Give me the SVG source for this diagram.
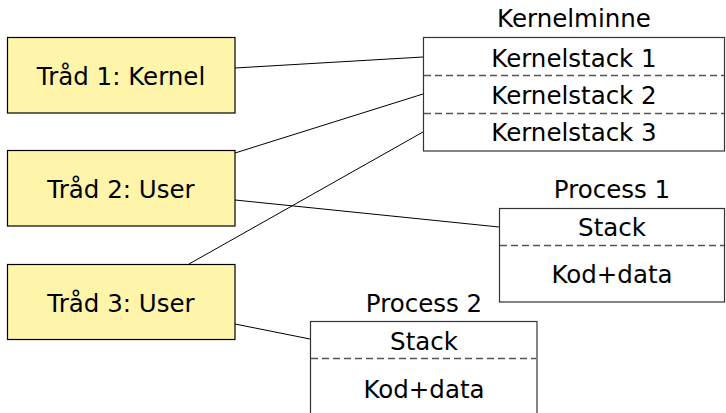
<svg xmlns="http://www.w3.org/2000/svg" width="726" height="413" viewBox="0 0 726 413">
  <style>
    text { font-family: "DejaVu Sans", "Noto Sans", sans-serif; font-size: 24.5px; fill: #000; text-anchor: middle; }
    .thread { fill: #fff5aa; stroke: #000; stroke-width: 1.2; }
    .mem { fill: #fff; stroke: #333; stroke-width: 1.2; }
    .sep { stroke: #555; stroke-width: 1.3; stroke-dasharray: 7 4; fill: none; }
    .link { stroke: #000; stroke-width: 1; fill: none; }
  </style>
  <rect width="726" height="413" fill="#fff"/>

  <!-- connectors -->
  <g id="connectors">
    <line class="link" x1="235" y1="68" x2="423" y2="57"/>
    <line class="link" x1="235" y1="153" x2="423" y2="94"/>
    <line class="link" x1="235" y1="200" x2="499" y2="227"/>
    <line class="link" x1="189" y1="264" x2="423" y2="132"/>
    <line class="link" x1="235" y1="324" x2="310" y2="339"/>
  </g>

  <!-- threads -->
  <g id="thread1">
    <rect class="thread" x="7.5" y="37.5" width="227.5" height="75.5"/>
    <text x="121" y="85">Tråd 1: Kernel</text>
  </g>
  <g id="thread2">
    <rect class="thread" x="7.5" y="150.5" width="227.5" height="75.5"/>
    <text x="121" y="198">Tråd 2: User</text>
  </g>
  <g id="thread3">
    <rect class="thread" x="7.5" y="264.5" width="227.5" height="75"/>
    <text x="121" y="312">Tråd 3: User</text>
  </g>

  <!-- kernel memory -->
  <g id="kernelmem">
    <text x="574" y="27">Kernelminne</text>
    <rect class="mem" x="423.5" y="37.5" width="301" height="113.5"/>
    <line class="sep" x1="424" y1="75.5" x2="724" y2="75.5"/>
    <line class="sep" x1="424" y1="113.5" x2="724" y2="113.5"/>
    <text x="574" y="67">Kernelstack 1</text>
    <text x="574" y="104">Kernelstack 2</text>
    <text x="574" y="141">Kernelstack 3</text>
  </g>

  <!-- process 1 -->
  <g id="process1">
    <text x="612" y="198">Process 1</text>
    <rect class="mem" x="499.5" y="208.5" width="225" height="93.5"/>
    <line class="sep" x1="500" y1="245.5" x2="724" y2="245.5"/>
    <text x="612" y="236">Stack</text>
    <text x="612" y="283">Kod+data</text>
  </g>

  <!-- process 2 -->
  <g id="process2">
    <text x="424" y="312">Process 2</text>
    <rect class="mem" x="310.5" y="321.5" width="226.5" height="100"/>
    <line class="sep" x1="311" y1="358.5" x2="536" y2="358.5"/>
    <text x="424" y="350">Stack</text>
    <text x="424" y="398">Kod+data</text>
  </g>
</svg>
